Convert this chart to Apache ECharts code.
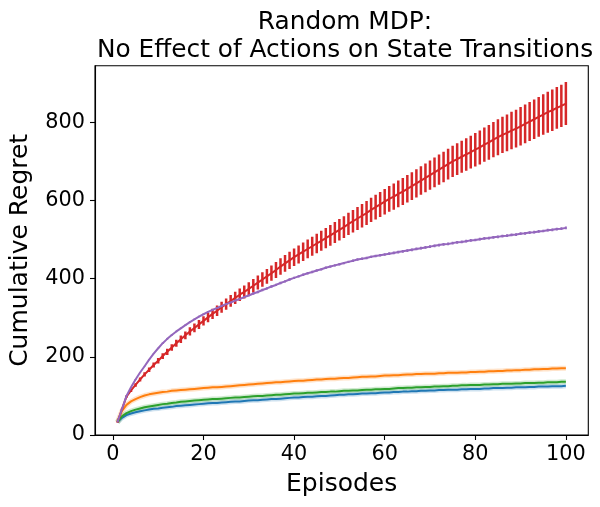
<!DOCTYPE html>
<html>
<head>
<meta charset="utf-8">
<script src="https://cdn.jsdelivr.net/npm/echarts@6/dist/echarts.min.js"></script>
<style>
html,body{margin:0;padding:0;background:#fff;}
#chart{width:600px;height:507px;}
</style>
</head>
<body>
<div id="chart"></div>
<script>
var episodes = [];
for (var i = 1; i <= 100; i++) episodes.push(i);

var xTicks = [0, 20, 40, 60, 80, 100];
var yTicks = [0, 200, 400, 600, 800];

var blue = [33,44,51,55,58,61,63,65,67,68,70,71,72,74,75,76,77,78,79,80,81,82,82,83,84,85,86,86,87,88,89,89,90,91,92,92,93,94,95,96,96,97,98,98,99,100,100,101,102,103,103,104,104,105,106,106,107,107,108,109,109,110,110,111,111,112,112,113,113,114,114,115,115,116,116,116,117,117,118,118,118,119,119,120,120,120,121,121,122,122,122,123,123,124,124,124,125,125,125,126];

var green = [33,48,56,61,65,68,71,73,75,77,79,80,82,83,85,86,87,88,89,90,91,92,92,93,94,95,96,96,97,98,99,100,100,101,102,103,103,104,105,106,106,107,108,108,109,110,110,111,111,112,113,113,114,114,115,116,116,117,117,118,118,119,120,120,121,121,122,122,123,123,124,124,125,125,126,126,127,127,128,128,128,129,129,130,130,131,131,131,132,132,133,133,133,134,134,135,135,135,136,136];

var orange = [33,62,77,86,92,97,101,104,106,108,110,111,113,114,115,116,117,118,119,120,121,122,122,123,124,125,126,127,128,129,130,131,132,133,134,135,135,136,137,138,139,139,140,141,142,142,143,144,144,145,146,146,147,148,149,149,150,150,151,152,152,153,153,154,155,155,156,156,157,157,157,158,158,159,159,159,160,160,161,161,162,162,163,163,164,164,165,165,166,166,167,167,168,168,169,169,170,170,171,171];

var red = [33,66,98,114,128,142,155,167,179,190,202,213,224,235,245,255,265,274,283,292,301,310,318,327,335,343,351,359,366,374,382,390,398,406,414,422,431,439,447,455,462,469,476,483,490,497,504,511,518,525,532,540,547,554,561,568,576,583,590,597,604,610,617,623,630,637,644,651,658,665,672,679,686,693,700,706,712,718,724,730,736,743,749,756,762,768,773,779,784,790,796,802,808,814,820,826,831,837,842,848];

var redErr = [1,2,3,4,4.5,5,5.5,6,6.5,7,7.5,8,8.5,9,9.5,10,10.5,11,11.5,12,12.5,13,13.5,14,14.5,15,15.5,16,16.5,17,17.5,18,18.5,19,19.5,20.5,21,21.5,22,22.5,23,23.5,24,24.5,25,25.5,26,26.5,27,27.5,28,28.5,29,29.5,30,30.5,31,31.5,32,32.5,33,33.5,34,34.5,35,35.5,36,36.5,37,37.5,38,38.5,39,39.5,40,40.5,41,41.5,42,43,43.5,44,44.5,45,46,46.5,47,48,48.5,49,49.5,50,50.5,51,52,52.5,53,53.5,54,55];

var purple = [33,66,100,122,142,160,176,193,208,222,235,246,256,265,273,281,289,296,303,309,315,320,325,330,335,339,344,348,353,357,362,366,371,375,380,384,389,393,398,402,406,410,414,417,421,424,428,431,434,437,440,443,446,449,451,453,456,458,460,462,464,466,468,470,472,474,476,478,480,482,484,486,488,489,491,493,494,496,498,499,501,503,504,506,507,509,510,512,513,515,516,518,519,521,522,524,525,527,528,530];

var purpleErr = [0.5,1,1,1,1,1,1,1,1,1,2,2,2,2,2,2,2,2,2,2,2,2,2,2,2,2,2,2,2,2,3,3,3,3,3,3,3,3,3,3,3,3,3,3,3,3,3,3,3,3,3,3,3,3,3,3,3,3,3,3,3.5,3.5,3.5,3.5,3.5,3.5,3.5,3.5,3.5,3.5,3.5,3.5,3.5,3.5,3.5,3.5,3.5,3.5,3.5,3.5,3.5,3.5,3.5,3.5,3.5,3.5,3.5,3.5,3.5,3.5,3.5,3.5,3.5,3.5,3.5,3.5,3.5,3.5,3.5,3.5];

var C = {blue:'#1f77b4', orange:'#ff7f0e', green:'#2ca02c', red:'#d62728', purple:'#9467bd'};
var FONT = 'DejaVu Sans';

function pairs(arr){ return arr.map(function(v,i){ return [episodes[i], v]; }); }
function bars(arr, err){ return arr.map(function(v,i){ return [episodes[i], v-err[i], v+err[i]]; }); }

function lineSeries(name, arr, color, z){
  return {name:name, type:'line', data:pairs(arr), showSymbol:false, symbol:'none',
    lineStyle:{color:color, width:2}, z:z, silent:true};
}
function haloSeries(arr, color, z){
  return {type:'line', data:pairs(arr), showSymbol:false, symbol:'none',
    lineStyle:{color:color, width:5, opacity:0.22}, z:z, silent:true};
}
function errSeries(arr, err, color, z, w){
  return {type:'custom', data:bars(arr, err), z:z, silent:true, clip:true,
    renderItem:function(params, api){
      var x = api.value(0), lo = api.value(1), hi = api.value(2);
      var p1 = api.coord([x, lo]), p2 = api.coord([x, hi]);
      return {type:'line', shape:{x1:p1[0], y1:p1[1], x2:p2[0], y2:p2[1]},
        style:{stroke:color, lineWidth:w}};
    }};
}

var chart = echarts.init(document.getElementById('chart'), null, {renderer:'canvas'});
chart.setOption({
  animation:false,
  backgroundColor:'#fff',
  title:{
    text:'Random MDP:\nNo Effect of Actions on State Transitions',
    left:340, top:4, textAlign:'center',
    textStyle:{fontFamily:FONT, fontSize:24.8, fontWeight:'normal', color:'#000', lineHeight:28}
  },
  grid:{left:92.7, right:11.7, top:65.7, bottom:72, show:true, borderColor:'#000', borderWidth:1.1, backgroundColor:'transparent'},
  xAxis:{
    type:'value', min:-3.95, max:104.95,
    name:'Episodes', nameLocation:'middle', nameGap:37,
    nameTextStyle:{fontFamily:FONT, fontSize:25, color:'#000'},
    axisLine:{show:true, onZero:false, lineStyle:{color:'#000', width:1.1}},
    axisTick:{show:true, customValues:xTicks, length:5, lineStyle:{color:'#000', width:1.1}},
    axisLabel:{customValues:xTicks, fontFamily:FONT, fontSize:20.8, color:'#000', margin:9},
    splitLine:{show:false}
  },
  yAxis:{
    type:'value', min:0, max:945,
    name:'Cumulative Regret', nameLocation:'middle', nameGap:62, nameRotate:90,
    nameTextStyle:{fontFamily:FONT, fontSize:25, color:'#000'},
    axisLine:{show:true, onZero:false, lineStyle:{color:'#000', width:1.1}},
    axisTick:{show:true, customValues:yTicks, length:5, lineStyle:{color:'#000', width:1.1}},
    axisLabel:{customValues:yTicks, fontFamily:FONT, fontSize:20.8, color:'#000', margin:10},
    splitLine:{show:false}
  },
  series:[
    haloSeries(blue, C.blue, 1),
    lineSeries('blue', blue, C.blue, 2),
    haloSeries(orange, C.orange, 1),
    lineSeries('orange', orange, C.orange, 2),
    haloSeries(green, C.green, 1),
    lineSeries('green', green, C.green, 2),
    errSeries(red, redErr, C.red, 3, 2.5),
    lineSeries('red', red, C.red, 3),
    errSeries(purple, purpleErr, C.purple, 4, 2),
    lineSeries('purple', purple, C.purple, 4)
  ]
});
</script>
</body>
</html>
